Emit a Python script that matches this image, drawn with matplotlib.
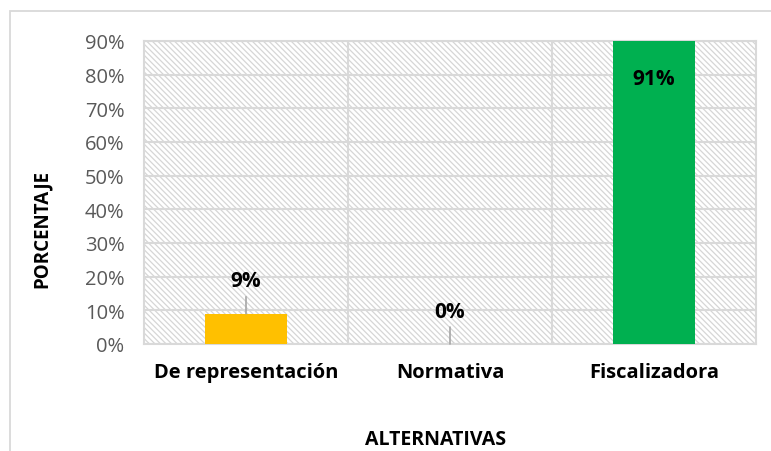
import matplotlib
matplotlib.use('Agg')
import matplotlib.pyplot as plt
from matplotlib.patches import Rectangle
from matplotlib.ticker import MultipleLocator, PercentFormatter

categorias = ['De representación', 'Normativa', 'Fiscalizadora']
porcentajes = [0.09, 0.00, 0.91]
etiquetas = ['9%', '0%', '91%']
colores = ['#FFC000', '#00B050', '#00B050']

plt.rcParams['font.family'] = ['Open Sans', 'DejaVu Sans']
plt.rcParams['hatch.color'] = '#D6D6D6'
plt.rcParams['hatch.linewidth'] = 0.9

fig = plt.figure(figsize=(7.71, 4.52), dpi=100)
ax = fig.add_axes([144/771, 1 - 345/452, (756-144)/771, (345-42)/452])

# outer chart border (runs past the right/bottom edge like the original)
fig.patches.append(Rectangle((10/771, -0.1), 1.0, 1 - 12/452 + 0.1, transform=fig.transFigure,
                             fill=False, edgecolor='#D9D9D9', linewidth=1.3))

# hatched plot area
ax.patch.set_facecolor('white')
ax.add_patch(Rectangle((0, 0), 1, 1, transform=ax.transAxes, facecolor='none',
                       edgecolor='#D6D6D6', hatch='\\\\\\\\\\\\', linewidth=0, zorder=0))

x = range(len(categorias))
ax.bar(x, porcentajes, width=0.4, color=colores, zorder=3)

ax.set_xlim(-0.5, 2.5)
ax.set_ylim(0, 0.9)
ax.yaxis.set_major_locator(MultipleLocator(0.1))
ax.yaxis.set_major_formatter(PercentFormatter(1.0, decimals=0))
ax.set_xticks(list(x))
ax.set_xticklabels(categorias, fontsize=14.5, fontweight='bold')
ax.set_xticks([0.5, 1.5], minor=True)
ax.grid(True, axis='y', which='major', color='#D9D9D9', linewidth=1.5, zorder=1)
ax.grid(True, axis='x', which='minor', color='#D9D9D9', linewidth=1.5, zorder=1)
ax.set_axisbelow(True)
ax.tick_params(axis='both', which='both', length=0)
ax.tick_params(axis='y', labelsize=14.5, labelcolor='#595959', pad=14)
ax.tick_params(axis='x', pad=13)
for s in ax.spines.values():
    s.set_color('#D9D9D9')
    s.set_linewidth(1.5)

# data labels
for i, (v, t) in enumerate(zip(porcentajes, etiquetas)):
    if v > 0.5:
        ax.annotate(t, xy=(i, 0.9), xytext=(0, -38), textcoords='offset pixels',
                    ha='center', va='center', fontsize=15, fontweight='bold', zorder=5)
    else:
        ax.annotate(t, xy=(i, v), xytext=(0, 33), textcoords='offset pixels',
                    ha='center', va='center', fontsize=15, fontweight='bold', zorder=5,
                    arrowprops=dict(arrowstyle='-', color='#A6A6A6', lw=1.2,
                                    shrinkA=2, shrinkB=0))

fig.text(42/771, 1 - 229/452, 'PORCENTAJE', rotation=90, ha='center', va='center',
         fontsize=13.5, fontweight='bold')
fig.text(436/771, 1 - 440/452, 'ALTERNATIVAS', ha='center', va='center',
         fontsize=14, fontweight='bold')

fig.savefig('out.png', dpi=100)
